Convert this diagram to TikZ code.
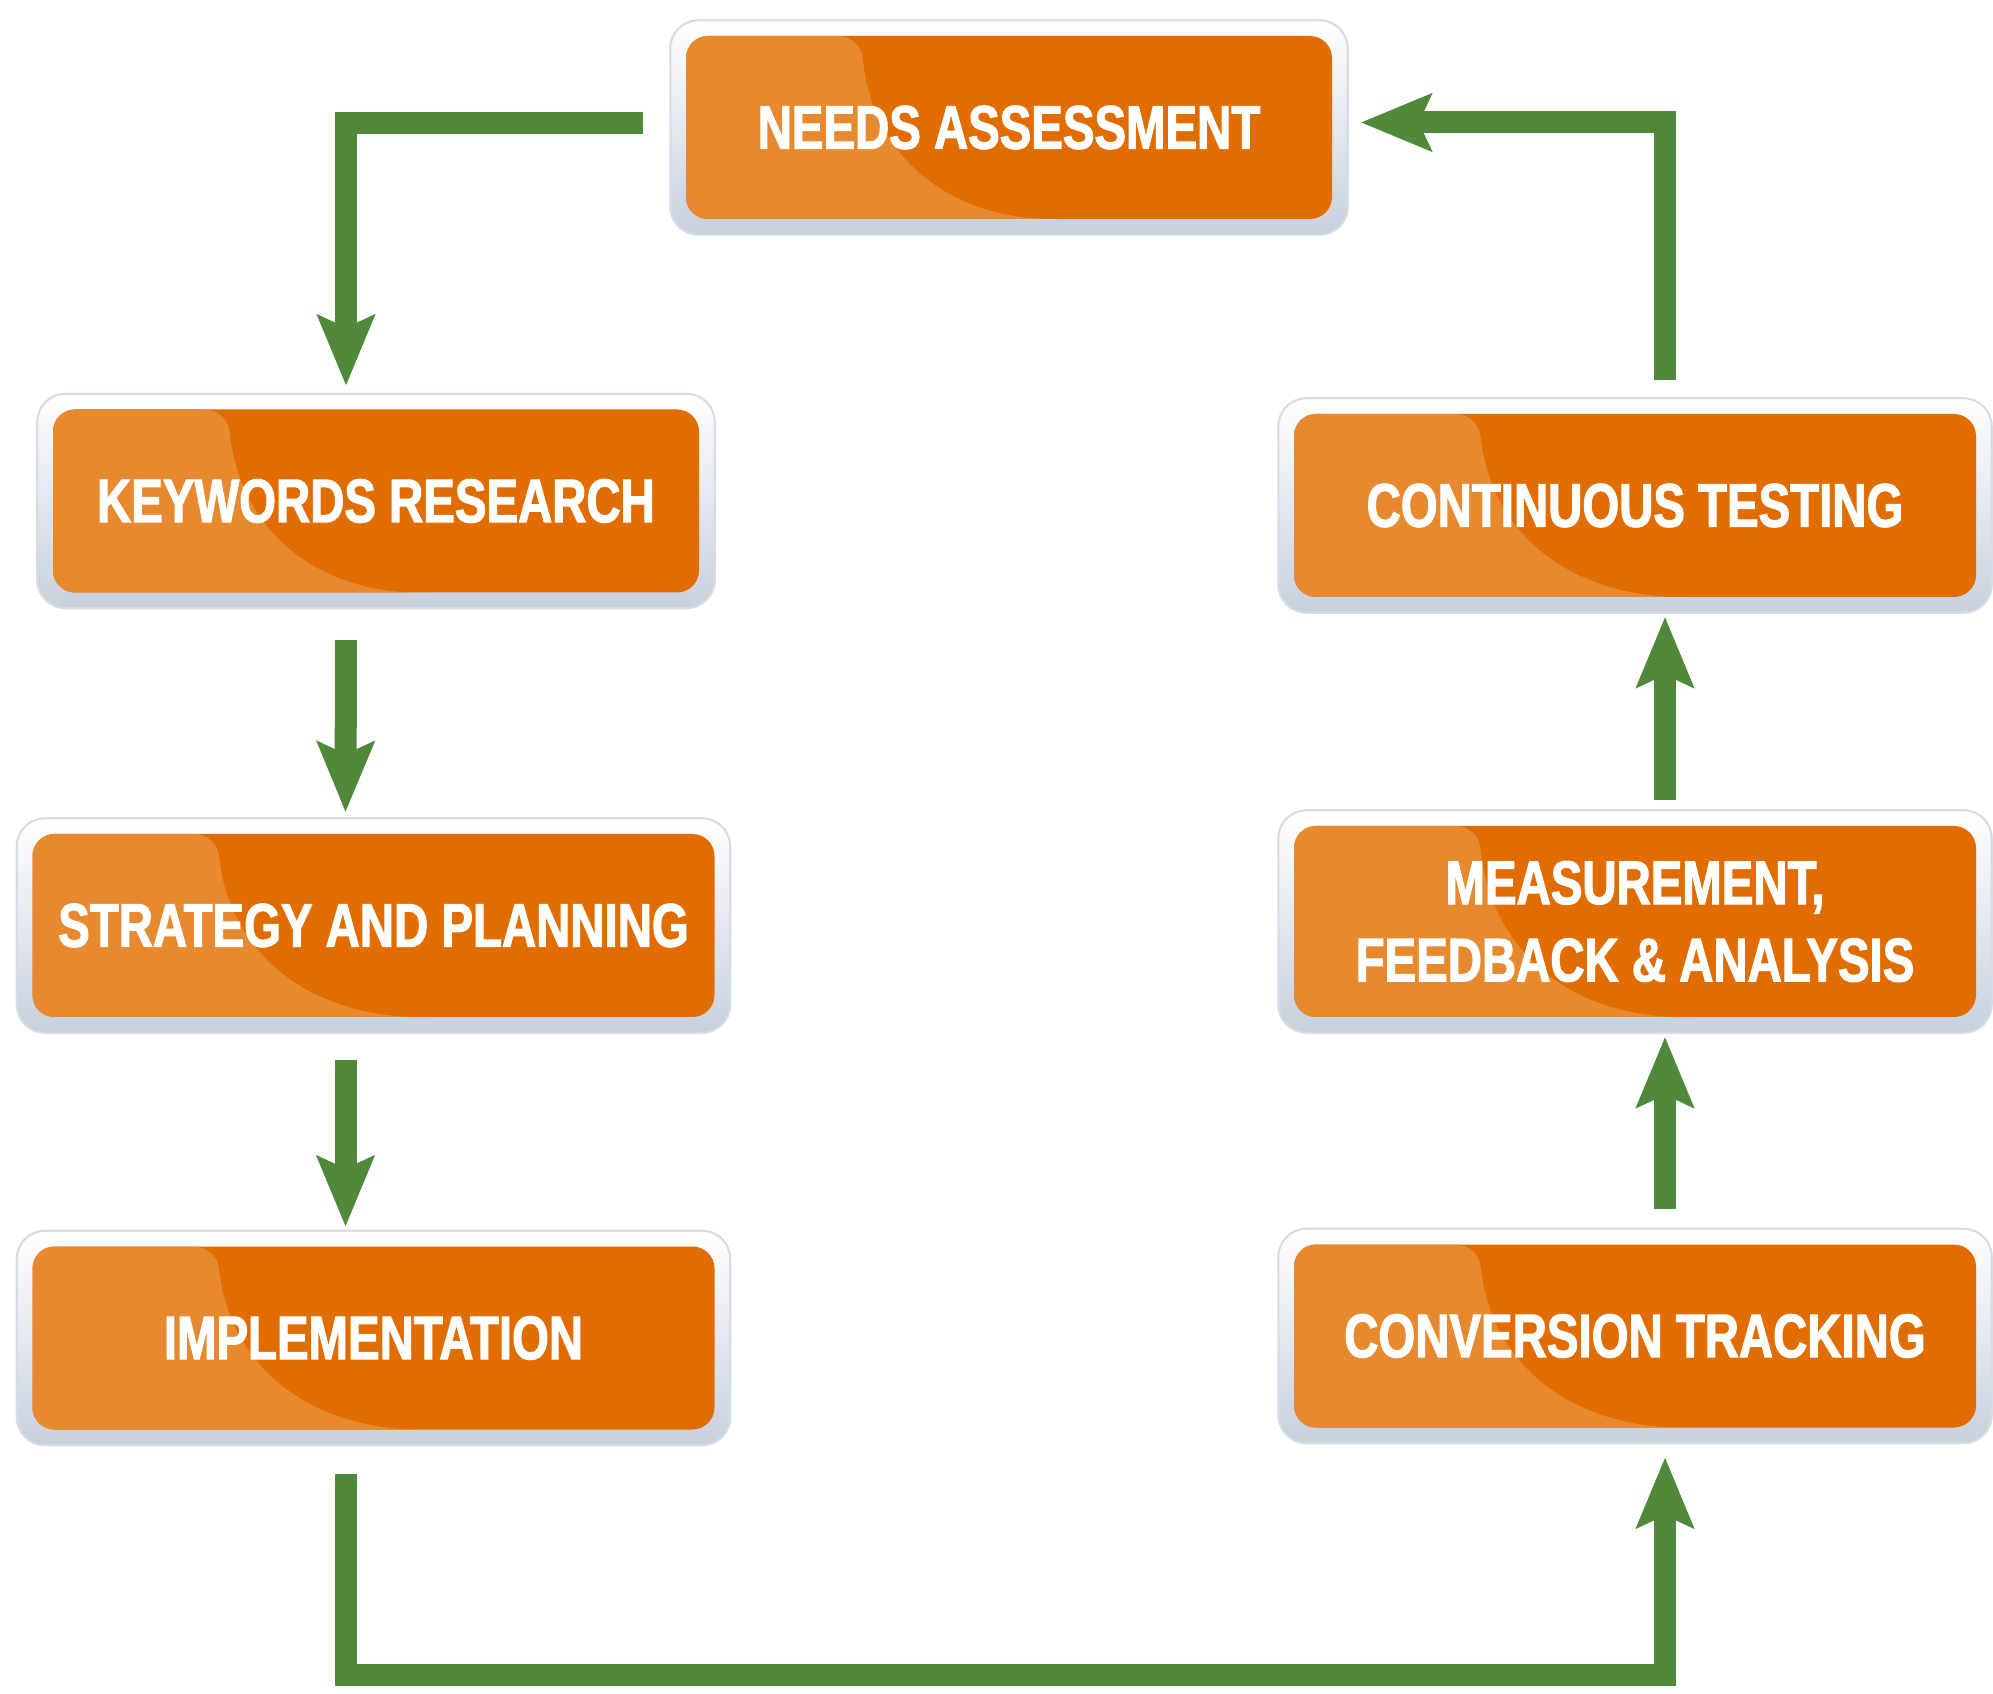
\documentclass[tikz,border=0pt]{standalone}
\usepackage{fontspec}
\usetikzlibrary{arrows.meta,calc,backgrounds}
\newfontfamily\boxfont[FakeStretch=0.77,FakeBold=1.8]{Liberation Sans Bold}
\definecolor{leaf}{RGB}{80,137,58}
\definecolor{amber}{RGB}{225,108,0}
\definecolor{amberlt}{RGB}{231,137,46}
\definecolor{rim}{RGB}{200,208,222}
\definecolor{rimline}{RGB}{214,219,228}

\begin{document}
\begin{tikzpicture}[x=0.1mm,y=-0.1mm,>=Stealth,font=\boxfont\fontsize{17.5}{22}\selectfont]
\tikzset{stage/.style={rounded corners=2.2mm,fill=amber,text=white,align=center,inner sep=0pt,
    minimum width=6.46cm,minimum height=1.83cm,
    path picture={\fill[amberlt] let \p1=(path picture bounding box.south west),\p2=(path picture bounding box.north east) in
      (\x1,\y1) -- (\x1,\y2) -- ({\x1+0.27*(\x2-\x1)},\y2)
      .. controls ({\x1+0.29*(\x2-\x1)},{\y1+0.3*(\y2-\y1)}) and ({\x1+0.42*(\x2-\x1)},\y1) .. ({\x1+0.60*(\x2-\x1)},\y1) -- cycle;}},
  wide/.style={stage,minimum width=6.82cm},
  rimbox/.style={rounded corners=2.8mm,draw=rimline,line width=0.6pt,top color=white,bottom color=rim},
  flow/.style={draw=leaf,line width=2.2mm,-{Stealth[length=7mm,width=5.6mm,inset=1.2mm]}}}
\useasboundingbox (0,0) rectangle (1993,1694);
% stages
\node[stage] (needs) at (1009,127.5) {NEEDS ASSESSMENT};
\node[stage] (kw) at (376,501) {KEYWORDS RESEARCH};
\node[wide] (strat) at (373.5,925.5) {STRATEGY AND PLANNING};
\node[wide] (impl) at (373.5,1338) {IMPLEMENTATION};
\node[wide] (cont) at (1635,505.5) {CONTINUOUS TESTING};
\node[wide,minimum height=1.91cm] (meas) at (1635,921.5) {MEASUREMENT,\\FEEDBACK \& ANALYSIS};
\node[wide] (conv) at (1635,1336) {CONVERSION TRACKING};
\begin{scope}[on background layer]
\foreach \n in {needs,kw,strat,impl,cont,meas,conv}
  \path[rimbox] ($(\n.south west)+(-15,15)$) rectangle ($(\n.north east)+(15,-15)$);
\end{scope}
% cycle
\draw[flow] ($(needs.west)+(-42,-4)$) -| ($(kw.north)+(-30,-23)$);
\draw[flow] ($(kw.south)+(-30,47)$) -- ($(strat.north)+(-28,-21)$);
\draw[flow] ($(strat.south)+(-28,42)$) -- ($(impl.north)+(-28,-19)$);
\draw[flow] ($(impl.south)+(-28,44)$) -- ++(0,201) -| ($(conv.south)+(30,29)$);
\draw[flow] ($(conv.north)+(30,-35)$) -- ($(meas.south)+(30,19)$);
\draw[flow] ($(meas.north)+(30,-25)$) -- ($(cont.south)+(30,19)$);
\draw[flow] ($(cont.north)+(30,-33)$) |- ($(needs.east)+(28,-5)$);
\end{tikzpicture}
\end{document}
